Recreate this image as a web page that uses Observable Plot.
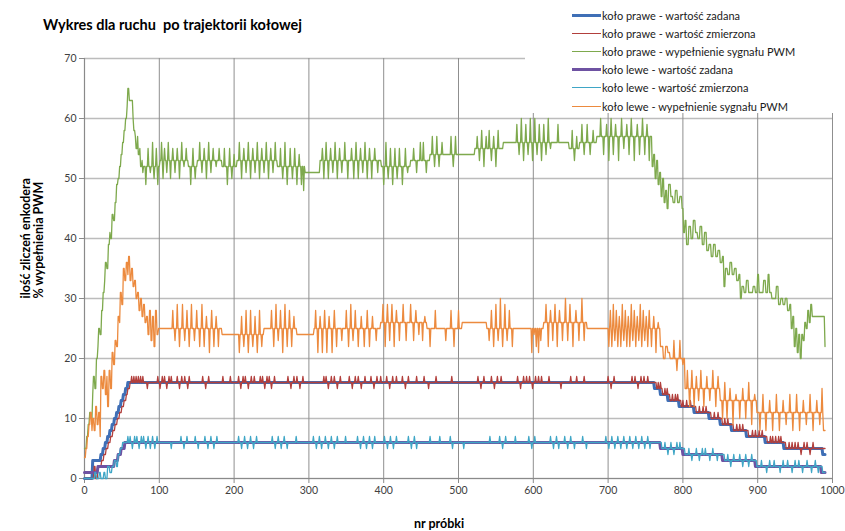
<!DOCTYPE html>
<html><head><meta charset="utf-8">
<script src="https://cdn.jsdelivr.net/npm/d3@7"></script>
<script src="https://cdn.jsdelivr.net/npm/@observablehq/plot@0.6"></script>
<style>
html,body{margin:0;padding:0;background:#fff;overflow:hidden}
#wrap{position:relative;width:845px;height:531px;overflow:hidden;font-family:Lato,"Open Sans",sans-serif}
#wrap svg{position:absolute;left:0;top:0}
.title{position:absolute;left:43px;top:16px;font-weight:bold;font-size:14.5px;color:#000;white-space:pre}
.legend{position:absolute;left:525px;top:0;width:320px;height:113px;background:#fff}
.legend .row{position:absolute;left:47px;height:14px;display:flex;align-items:center;font-size:11px;color:#1a1a1a;white-space:nowrap}
.legend .sw{width:29px;margin-right:1px}
.xtitle{position:absolute;left:439px;top:516px;transform:translateX(-50%);font-weight:bold;font-size:12.5px;color:#000;white-space:nowrap}
</style></head>
<body><div id="wrap"></div>
<script>
// ---------- data ----------
const LAST_SAMPLE = 990;
const X_TICKS = [0, 100, 200, 300, 400, 500, 600, 700, 800, 900, 1000];
const Y_TICKS = [0, 10, 20, 30, 40, 50, 60, 70];
const TITLE = "Wykres dla ruchu  po trajektorii kołowej";
const X_TITLE = "nr próbki";
const Y_TITLE = ["ilość zliczeń enkodera", "% wypełnienia PWM"];
const SERIES_NAMES = [
  "koło prawe - wartość zadana",
  "koło prawe - wartość zmierzona",
  "koło prawe - wypełnienie sygnału PWM",
  "koło lewe - wartość zadana",
  "koło lewe - wartość zmierzona",
  "koło lewe - wypełnienie sygnału PWM"
];

// steps: [sample, value] = value held from that sample on; spikes: [sample, value] single-sample excursions
const rightSetSteps = [[0,0],[11,3],[22,4],[25,5],[28,6],[31,7],[34,8],[37,9],[40,10],[43,11],[46,12],[49,13],[52,14],[55,15],[58,16],[762,15],[770,14],[780,13],[795,12],[815,11],[835,10],[850,9],[865,8],[885,7],[910,6],[935,5],[987,4]];

const rightMeasSteps = [[0,0],[13,2],[15,0],[18,2],[23,3],[26,4],[29,5],[32,6],[35,7],[38,8],[41,9],[44,10],[47,11],[50,12],[53,13],[56,14],[58,15],[61,16],[765,15],[773,14],[783,13],[798,12],[818,11],[838,10],[853,9],[868,8],[888,7],[913,6],[938,5]];
const rightMeasSpikes = [[63,17],[66,17],[69,17],[72,17],[75,17],[78,17],[84,15],[98,17],[101,15],[104,17],[107,17],[110,15],[113,17],[116,17],[124,17],[127,15],[130,17],[134,17],[138,15],[140,17],[158,17],[162,15],[166,17],[185,17],[195,17],[206,17],[209,15],[212,17],[215,17],[219,15],[223,17],[227,17],[235,17],[238,17],[241,15],[244,17],[247,17],[250,15],[254,17],[272,17],[276,15],[280,17],[284,17],[288,15],[292,17],[320,17],[323,17],[326,15],[330,17],[334,17],[338,15],[342,17],[354,17],[358,15],[362,17],[366,17],[370,15],[375,17],[383,17],[387,15],[391,17],[396,17],[404,17],[408,15],[412,17],[417,17],[425,17],[429,15],[433,17],[444,17],[454,17],[460,15],[470,17],[491,17],[526,17],[530,15],[534,17],[544,17],[548,15],[552,17],[557,17],[579,17],[583,15],[587,17],[591,17],[595,17],[599,15],[603,17],[607,17],[611,17],[621,17],[637,15],[650,17],[658,17],[668,17],[700,17],[704,15],[708,17],[732,17],[736,17],[740,15],[744,17],[748,17],[753,17],[767,16],[770,16],[776,15],[779,15],[786,14],[790,14],[793,14],[800,13],[805,13],[810,13],[822,12],[827,12],[831,12],[842,11],[847,11],[856,10],[860,10],[872,9],[876,9],[880,9],[893,8],[897,8],[902,8],[906,8],[917,7],[920,7],[924,7],[928,7],[931,7],[942,6],[946,6],[950,6],[954,6],[958,4],[962,6],[966,6],[970,4],[974,6]];

const rightPwmSteps = [[0,5],[3,7],[5,9],[7,11],[9,10],[11,14],[12,17],[14,15],[16,20],[18,22],[19,25],[21,24],[23,28],[25,31],[27,33],[28,36],[30,35],[32,39],[34,41],[35,40],[37,44],[39,43],[41,46],[43,49],[45,50],[47,52],[49,54],[51,56],[53,58],[55,60],[57,62],[58,65],[60,63],[63,63],[65,60],[66,58],[68,57],[69,55],[71,57],[72,54],[74,55],[75,52],[77,53],[78,51],[79,52],[101,53],[139,52],[151,53],[184,52],[204,53],[258,52],[295,51],[315,53],[397,52],[436,53],[462,54],[522,55],[560,56],[648,55],[662,56],[685,57],[759,52],[761,54],[763,50],[765,53],[767,49],[769,51],[771,47],[773,50],[775,46],[777,48],[779,45],[781,49],[784,47],[787,46],[790,48],[793,46],[796,47],[799,45],[801,41],[803,43],[805,39],[808,42],[811,40],[814,43],[817,41],[820,40],[823,42],[826,39],[829,41],[832,38],[835,39],[838,37],[841,39],[844,37],[847,38],[850,36],[853,37],[855,32],[857,35],[860,34],[863,36],[866,34],[869,35],[872,33],[875,34],[877,30],[879,32],[882,31],[885,33],[888,31],[894,32],[897,31],[900,34],[902,31],[908,33],[911,31],[914,34],[916,31],[919,30],[925,32],[928,29],[931,30],[934,29],[937,30],[940,28],[943,29],[945,25],[947,27],[949,22],[951,25],[953,21],[955,24],[957,20],[959,24],[961,23],[963,26],[965,25],[967,28],[969,26],[971,29],[973,27],[975,27],[990,22]];
const rightPwmSpikes = [[82,49],[85,55],[88,51],[91,56],[93,50],[96,55],[98,49],[103,56],[105,50],[107,55],[110,51],[112,56],[115,50],[118,55],[121,51],[124,55],[127,50],[130,56],[133,52],[136,55],[142,49],[145,55],[148,50],[154,56],[157,51],[160,55],[163,50],[166,56],[169,51],[172,55],[176,52],[180,55],[187,55],[191,49],[194,55],[197,50],[200,54],[207,56],[210,50],[213,55],[216,51],[219,56],[222,50],[225,55],[228,51],[231,56],[234,50],[237,55],[240,51],[243,56],[246,50],[249,55],[252,51],[255,56],[262,55],[265,50],[268,56],[271,49],[275,55],[278,50],[281,55],[284,49],[287,54],[290,49],[293,48],[318,55],[320,50],[323,56],[326,50],[329,55],[332,51],[335,56],[338,50],[341,55],[344,51],[348,56],[352,50],[357,55],[360,50],[363,56],[366,50],[369,55],[372,51],[375,56],[378,50],[381,55],[384,50],[388,55],[392,51],[400,49],[403,56],[406,50],[409,55],[412,49],[415,55],[418,50],[421,55],[425,49],[429,55],[432,51],[440,55],[444,51],[449,56],[453,56],[457,51],[465,57],[468,52],[471,57],[474,52],[478,56],[490,57],[493,52],[496,57],[525,57],[528,53],[531,58],[534,52],[537,57],[541,58],[544,53],[547,57],[550,52],[553,58],[578,59],[581,54],[584,60],[587,53],[590,59],[593,54],[596,60],[599,53],[602,60],[605,54],[608,59],[611,53],[614,59],[617,54],[620,60],[623,55],[633,59],[652,58],[655,53],[658,57],[665,59],[668,54],[672,59],[676,54],[680,58],[690,60],[694,54],[698,59],[701,53],[704,60],[707,54],[710,59],[714,53],[718,60],[721,55],[725,59],[728,54],[731,60],[735,53],[739,59],[742,54],[746,60],[749,54],[752,59],[755,53]];

const leftSetSteps = [[0,1],[18,2],[40,3],[45,4],[49,5],[54,6],[770,5],[800,4],[853,3],[897,2],[985,1]];

const leftMeasSteps = [[0,0],[14,1],[16,0],[20,1],[22,0],[26,1],[28,0],[31,2],[34,1],[37,2],[40,3],[43,2],[45,4],[48,5],[51,6],[772,5],[803,4],[856,3],[899,2],[987,1]];
const leftMeasSpikes = [[58,7],[61,7],[64,5],[67,7],[70,7],[73,5],[76,7],[79,7],[82,5],[85,7],[88,5],[91,7],[94,5],[97,7],[116,5],[129,7],[133,5],[137,7],[148,7],[152,5],[161,7],[165,5],[169,7],[173,5],[177,7],[206,7],[210,5],[214,7],[218,5],[222,7],[226,5],[230,7],[251,7],[255,5],[259,7],[263,5],[267,7],[271,5],[283,7],[306,7],[310,5],[314,7],[317,5],[322,7],[326,5],[330,7],[334,5],[338,7],[349,7],[365,7],[369,5],[373,7],[377,5],[381,7],[385,5],[388,7],[401,7],[405,5],[409,7],[413,5],[417,7],[433,7],[437,5],[441,7],[444,5],[462,7],[475,7],[489,7],[492,5],[507,5],[542,7],[555,7],[559,5],[563,7],[576,7],[594,7],[598,5],[602,7],[623,7],[627,5],[631,7],[634,5],[642,7],[646,5],[650,7],[655,5],[666,7],[671,5],[697,7],[701,5],[705,7],[709,5],[713,7],[717,5],[721,7],[725,5],[729,7],[733,5],[737,7],[741,5],[745,7],[749,5],[753,7],[756,5],[776,6],[780,4],[784,6],[788,4],[792,6],[796,6],[808,5],[812,3],[818,5],[822,3],[826,5],[830,5],[836,3],[840,5],[846,3],[860,4],[864,2],[868,4],[876,4],[880,2],[884,4],[888,2],[892,4],[905,3],[912,1],[916,3],[922,3],[930,1],[934,3],[940,3],[946,1],[950,3],[955,3],[960,1],[966,3],[972,1],[977,3],[981,1]];

const leftPwmSteps = [[0,3.5],[2,5],[4,7],[6,9],[8,11],[10,8],[11,10],[13,8],[15,12],[17,9],[19,11],[21,7],[22,17],[24,15],[26,18],[28,14],[30,17],[31,12],[33,18],[35,15],[37,21],[39,19],[41,23],[43,22],[45,27],[47,26],[48,31],[50,29],[52,35],[54,33],[56,36],[58,34],[59,37],[61,33],[63,35],[65,32],[67,33],[69,30],[71,31],[73,28],[75,30],[77,27],[79,29],[81,26],[83,27],[85,24],[87,28],[89,23],[91,27],[93,22],[95,28],[97,24],[99,25],[184,24],[240,25],[284,24],[307,25],[396,26],[458,25],[505,26],[538,25],[614,26],[672,25],[770,22],[774,20],[777,22],[780,21],[783,20],[803,15],[850,13],[899,11],[988,8]];
const leftPwmSpikes = [[118,28],[121,23],[124,29],[127,22],[131,29],[134,23],[137,28],[140,22],[143,29],[147,23],[150,28],[154,22],[157,29],[160,22],[163,27],[167,21],[170,28],[173,22],[176,27],[179,22],[207,21],[210,27],[213,22],[216,28],[219,21],[222,28],[225,22],[228,27],[231,21],[234,28],[237,22],[250,28],[253,22],[256,29],[259,23],[262,28],[265,21],[268,29],[271,22],[274,28],[277,22],[280,27],[309,28],[312,21],[315,27],[318,21],[321,28],[324,21],[327,27],[331,21],[334,28],[337,22],[344,23],[350,28],[353,22],[356,29],[359,23],[362,28],[366,22],[370,27],[374,22],[378,28],[381,22],[385,27],[390,23],[399,29],[402,22],[405,29],[408,23],[411,29],[414,22],[417,28],[421,23],[426,29],[430,23],[436,29],[440,23],[443,28],[447,24],[452,23],[455,27],[462,22],[469,28],[483,23],[490,28],[494,22],[500,28],[541,23],[544,28],[547,22],[550,29],[553,23],[556,30],[559,22],[562,29],[565,23],[568,28],[572,22],[598,21],[601,24],[604,22],[607,21],[610,23],[617,29],[620,22],[623,28],[626,23],[629,29],[632,22],[635,28],[639,23],[643,30],[646,23],[649,29],[653,22],[657,28],[661,23],[665,30],[668,23],[701,22],[703,28],[705,22],[707,29],[709,23],[711,28],[713,22],[715,27],[717,22],[719,29],[721,23],[723,28],[725,22],[727,27],[729,22],[731,29],[733,23],[735,28],[737,22],[739,27],[741,23],[743,29],[745,22],[747,28],[749,23],[751,27],[753,22],[755,28],[758,22],[761,27],[764,21],[767,26],[788,23],[792,18],[796,23],[800,19],[806,18],[809,12],[812,18],[815,12],[818,17],[821,13],[824,18],[828,12],[832,17],[836,13],[840,18],[844,12],[847,17],[853,10],[856,16],[859,10],[863,15],[867,9],[871,14],[876,10],[880,15],[884,10],[888,16],[892,9],[896,14],[903,8],[907,14],[911,8],[916,13],[920,8],[925,14],[929,8],[934,13],[938,9],[943,14],[947,8],[952,14],[956,8],[961,13],[965,9],[970,14],[974,8],[979,13],[983,9],[986,15]];

// ---------- styling ----------
const STYLE = [
  {color: "#3F6FB6", width: 3},
  {color: "#B23F3C", width: 1.3},
  {color: "#7EA94D", width: 1.3},
  {color: "#6E52A2", width: 3},
  {color: "#3FA6C6", width: 1.3},
  {color: "#EC8A3E", width: 1.3}
];

// ---------- build point tables from steps + spikes ----------
function build(steps, spikes = []) {
  const pts = [];
  steps.forEach(([x, v], i) => {
    const next = i + 1 < steps.length ? steps[i + 1][0] : LAST_SAMPLE + 1;
    pts.push({x, y: v});
    for (const [sx, p] of spikes) {
      if (sx > x && sx < next - 1) pts.push({x: sx - 1, y: v}, {x: sx, y: p}, {x: sx + 1, y: v});
    }
    if (next - 1 > x) pts.push({x: next - 1, y: v});
  });
  return pts;
}
const series = [
  build(rightSetSteps),
  build(rightMeasSteps, rightMeasSpikes),
  build(rightPwmSteps, rightPwmSpikes),
  build(leftSetSteps),
  build(leftMeasSteps, leftMeasSpikes),
  build(leftPwmSteps, leftPwmSpikes)
];

const chart = Plot.plot({
  width: 845, height: 531,
  marginLeft: 84, marginRight: 13, marginTop: 58, marginBottom: 53,
  style: {fontFamily: "Lato, 'Open Sans', sans-serif", fontSize: "11px", background: "transparent"},
  x: {domain: [0, 1000]},
  y: {domain: [0, 70]},
  marks: [
    Plot.gridY(Y_TICKS, {stroke: "#bcbcbc", strokeOpacity: 1, strokeWidth: 1.3}),
    Plot.gridX(X_TICKS, {stroke: "#8f8f8f", strokeOpacity: 1, strokeWidth: 1}),
    Plot.ruleX([0], {stroke: "#8a8a8a", strokeWidth: 1.2}),
    Plot.ruleY([0], {stroke: "#8a8a8a", strokeWidth: 1.2}),
    Plot.axisX(X_TICKS, {tickSize: 5, tickPadding: 3, stroke: "#8a8a8a", fill: "#404040", label: null, fontSize: 10.5, tickFormat: "d"}),
    Plot.axisY(Y_TICKS, {tickSize: 5, tickPadding: 3, stroke: "#8a8a8a", fill: "#404040", label: null, fontSize: 10.5, tickFormat: "d"}),
    ...series.map((d, i) => Plot.line(d, {x: "x", y: "y", stroke: STYLE[i].color, strokeWidth: STYLE[i].width, strokeLinejoin: "round"})),
    // y-axis title, two rotated lines left of the tick labels
    Plot.text([Y_TITLE[0]], {text: (d) => d, frameAnchor: "left", rotate: -90, dx: -59, dy: 30, fontWeight: "bold", fontSize: 12.5, fill: "#000"}),
    Plot.text([Y_TITLE[1]], {text: (d) => d, frameAnchor: "left", rotate: -90, dx: -46, dy: 30, fontWeight: "bold", fontSize: 12.5, fill: "#000"})
  ]
});

const wrap = document.getElementById("wrap");
wrap.appendChild(chart);

const t = document.createElement("div"); t.className = "title"; t.textContent = TITLE; wrap.appendChild(t);

const lg = document.createElement("div"); lg.className = "legend";
SERIES_NAMES.forEach((name, i) => {
  const r = document.createElement("div"); r.className = "row";
  r.style.top = (8 + i * 18.2) + "px";
  const sw = document.createElement("span"); sw.className = "sw";
  sw.style.borderTop = STYLE[i].width + "px solid " + STYLE[i].color;
  const tx = document.createElement("span"); tx.textContent = name;
  r.appendChild(sw); r.appendChild(tx); lg.appendChild(r);
});
wrap.appendChild(lg);

const xt = document.createElement("div"); xt.className = "xtitle"; xt.textContent = X_TITLE; wrap.appendChild(xt);
</script>
</body></html>
